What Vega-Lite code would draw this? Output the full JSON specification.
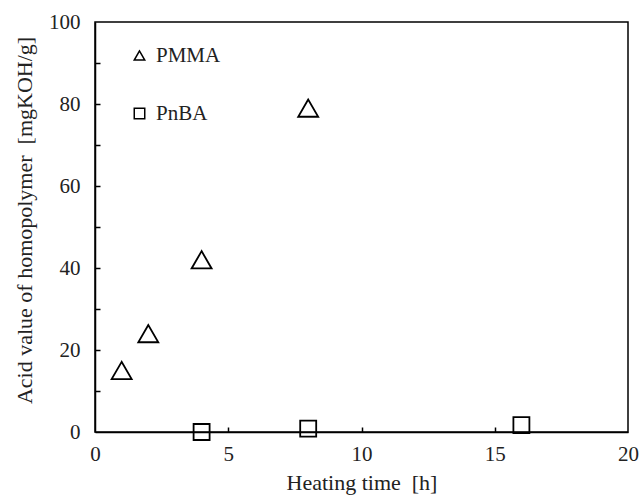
{
  "$schema": "https://vega.github.io/schema/vega-lite/v6.json",
  "autosize": "none",
  "width": 533,
  "height": 410,
  "padding": {"left": 95, "top": 22, "right": 12, "bottom": 67},
  "background": "white",
  "config": {
    "font": "Liberation Serif",
    "view": {"stroke": "black", "strokeWidth": 1.5},
    "axis": {
      "domainColor": "black",
      "domainWidth": 1.5,
      "tickColor": "black",
      "tickWidth": 1.5,
      "grid": false,
      "labelColor": "#222",
      "labelFont": "Liberation Serif",
      "labelFontSize": 21,
      "titleFont": "Liberation Serif",
      "titleFontSize": 22,
      "titleFontWeight": "normal",
      "titleColor": "#222"
    }
  },
  "data": {
    "values": [
      {"polymer": "PMMA", "time": 1, "acid": 15},
      {"polymer": "PMMA", "time": 2, "acid": 24},
      {"polymer": "PMMA", "time": 4, "acid": 42},
      {"polymer": "PMMA", "time": 8, "acid": 79},
      {"polymer": "PnBA", "time": 4, "acid": 0},
      {"polymer": "PnBA", "time": 8, "acid": 0.8},
      {"polymer": "PnBA", "time": 16, "acid": 1.7}
    ]
  },
  "resolve": {"scale": {"x": "independent", "y": "independent"}, "axis": {"x": "independent", "y": "independent"}},
  "layer": [
    {
      "transform": [{"filter": "datum.polymer == 'PMMA'"}],
      "mark": {"type": "point", "filled": false, "strokeWidth": 1.8, "color": "black", "opacity": 1, "size": 400},
      "encoding": {
        "x": {
          "field": "time", "type": "quantitative",
          "scale": {"domain": [0, 20], "nice": false, "zero": false},
          "axis": {"values": [0, 5, 10, 15, 20], "title": "Heating time\u00a0 [h]", "ticks": false, "tickSize": 0, "labelPadding": 11, "titlePadding": 8, "labelFlush": false}
        },
        "y": {
          "field": "acid", "type": "quantitative",
          "scale": {"domain": [0, 100], "nice": false, "zero": false},
          "axis": {
            "values": [0, 20, 40, 60, 80, 100],
            "title": "Acid value of homopolymer\u00a0 [mgKOH/g]",
            "titleY": 198,
            "ticks": false, "tickSize": 0,
            "labelPadding": 15, "titlePadding": 12, "labelFlush": false
          }
        },
        "shape": {
          "field": "polymer", "type": "nominal",
          "scale": {"domain": ["PMMA", "PnBA"], "range": ["triangle-up", "square"]},
          "legend": {
            "title": null,
            "orient": "none",
            "legendX": 34,
            "legendY": 23,
            "padding": 0,
            "symbolSize": 110,
            "symbolStrokeColor": "black",
            "symbolStrokeWidth": 1.5,
            "symbolFillColor": "transparent",
            "labelFont": "Liberation Serif",
            "labelFontSize": 21,
            "labelColor": "#222",
            "labelOffset": 6,
            "rowPadding": 36
          }
        }
      }
    },
    {
      "transform": [{"filter": "datum.polymer == 'PnBA'"}],
      "mark": {"type": "point", "filled": false, "strokeWidth": 1.8, "color": "black", "opacity": 1, "size": 256},
      "encoding": {
        "x": {
          "field": "time", "type": "quantitative",
          "scale": {"domain": [0, 20], "nice": false, "zero": false},
          "axis": {"orient": "top", "offset": -410, "values": [5, 10, 15], "labels": false, "title": null, "domain": false, "ticks": true, "tickSize": 5, "tickWidth": 1.5, "tickColor": "black"}
        },
        "y": {
          "field": "acid", "type": "quantitative",
          "scale": {"domain": [0, 100], "nice": false, "zero": false},
          "axis": {"orient": "right", "offset": -533, "values": [10, 20, 30, 40, 50, 60, 70, 80, 90], "labels": false, "title": null, "domain": false, "ticks": true, "tickSize": 5, "tickWidth": 1.5, "tickColor": "black"}
        },
        "shape": {
          "field": "polymer", "type": "nominal",
          "scale": {"domain": ["PMMA", "PnBA"], "range": ["triangle-up", "square"]}
        }
      }
    }
  ]
}
